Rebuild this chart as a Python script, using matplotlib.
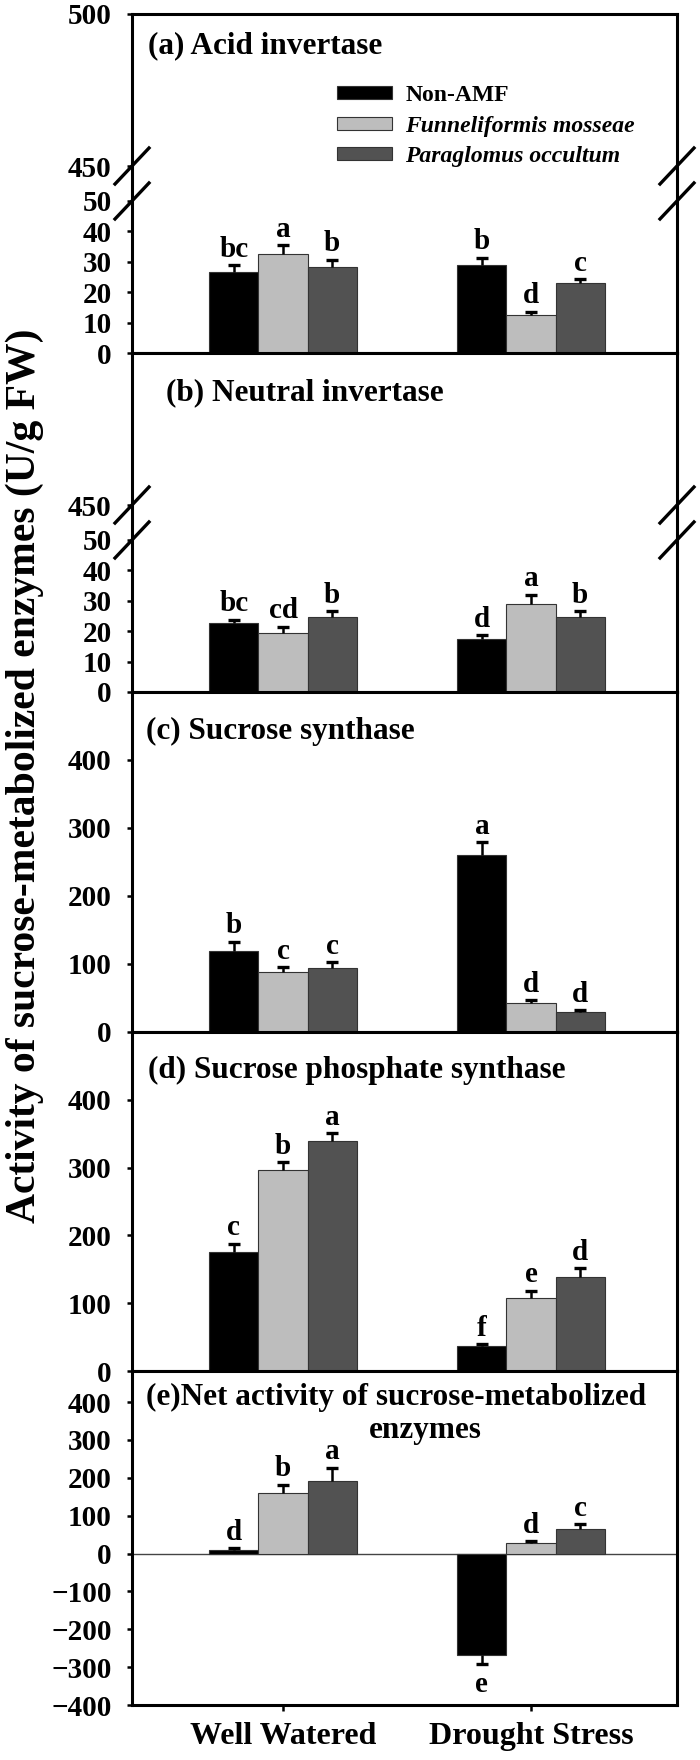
import numpy as np
import matplotlib
matplotlib.use("Agg")
import matplotlib.pyplot as plt
from matplotlib.patches import Patch

plt.rcParams['font.family'] = ['Liberation Serif', 'DejaVu Serif']
plt.rcParams['font.weight'] = 'bold'

groups = ['Well Watered', 'Drought Stress']
treatments = ['Non-AMF', 'Funneliformis mosseae', 'Paraglomus occultum']
colors = ['#000000', '#bdbdbd', '#525252']

# order of values: Well Watered (Non-AMF, F. mosseae, P. occultum), Drought Stress (same)
acid_inv = [26.7, 32.7, 28.4, 29.1, 12.4, 23.0]
acid_inv_err = [2.2, 2.8, 2.3, 2.3, 1.2, 1.3]
acid_inv_letters = ['bc', 'a', 'b', 'b', 'd', 'c']

neutral_inv = [22.6, 19.5, 24.8, 17.3, 29.0, 24.8]
neutral_inv_err = [1.2, 2.0, 1.7, 1.5, 3.0, 1.7]
neutral_inv_letters = ['bc', 'cd', 'b', 'd', 'a', 'b']

sus = [119, 88.5, 94.3, 260, 42.8, 29.5]
sus_err = [13.7, 7.3, 8.7, 19.6, 4.2, 2.5]
sus_letters = ['b', 'c', 'c', 'a', 'd', 'd']

sps = [176, 297, 339.4, 36.2, 108, 139]
sps_err = [12, 11, 11.2, 3.8, 10.3, 12.6]
sps_letters = ['c', 'b', 'a', 'f', 'e', 'd']

net = [9.7, 159, 192, -269, 27.4, 64.6]
net_err = [4.3, 23, 35, 23, 5.3, 13.4]
net_letters = ['d', 'b', 'a', 'e', 'd', 'c']

W = 0.198
BREAK_SHIFT = 388.5   # 450 on the broken axis sits at 61.5


def brk(v):
    return v if v <= 50 else v - BREAK_SHIFT


def draw_bars(ax, vals, errs, letters):
    xs = []
    for g in range(2):
        for t in range(3):
            xs.append(g + (t - 1) * W)
    for i, (x, v, e, lt) in enumerate(zip(xs, vals, errs, letters)):
        t = i % 3
        ax.bar(x, v, W, color=colors[t], edgecolor='#333333', linewidth=0.8, zorder=3)
        end = v + e if v >= 0 else v - e
        ax.vlines(x, v, end, color='black', lw=1.8, zorder=4)
        ax.plot([x], [end], marker='_', ms=9, mew=2.4, color='black', zorder=4)
        if v >= 0:
            ax.annotate(lt, (x, end), xytext=(0, 6), textcoords='offset points',
                        ha='center', va='baseline', fontsize=21, fontweight='bold')
        else:
            ax.annotate(lt, (x, end), xytext=(0, -5), textcoords='offset points',
                        ha='center', va='top', fontsize=21, fontweight='bold')


fig = plt.figure(figsize=(7, 17.6), dpi=100)

# panel edges in pixels (top, bottom)
edges = [(14, 353), (353, 692), (692, 1032), (1032, 1371), (1371, 1705)]
L, R = 132, 677
axes = []
for top, bot in edges:
    ax = fig.add_axes([L / 700, 1 - bot / 1760, (R - L) / 700, (bot - top) / 1760])
    ax.set_xlim(-0.609, 1.589)
    for s in ax.spines.values():
        s.set_linewidth(2.2)
    ax.tick_params(axis='y', direction='out', length=3.5, width=1.8, pad=11, labelsize=21)
    ax.tick_params(axis='x', bottom=False, labelbottom=False)
    axes.append(ax)

ax_a, ax_b, ax_c, ax_d, ax_e = axes

# broken axes for (a) and (b)
for ax, vals, errs, lets in [(ax_a, acid_inv, acid_inv_err, acid_inv_letters),
                             (ax_b, neutral_inv, neutral_inv_err, neutral_inv_letters)]:
    ax.set_ylim(0, brk(500))
    ticks = [0, 10, 20, 30, 40, 50, 450, 500] if ax is ax_a else [0, 10, 20, 30, 40, 50, 450]
    ax.set_yticks([brk(t) for t in ticks])
    ax.set_yticklabels([str(t) for t in ticks])
    draw_bars(ax, vals, errs, lets)
    tr = ax.get_yaxis_transform()
    dx, dy = 17 / 545, 18 / 3.04
    for xa in (0, 1):
        for yb in (brk(50), brk(450)):
            ax.plot([xa - dx, xa + dx], [yb - dy, yb + dy], color='black', lw=2.4,
                    transform=tr, clip_on=False, zorder=6)

ax_c.set_ylim(0, 500)
ax_c.set_yticks([0, 100, 200, 300, 400])
draw_bars(ax_c, sus, sus_err, sus_letters)

ax_d.set_ylim(0, 500)
ax_d.set_yticks([0, 100, 200, 300, 400])
draw_bars(ax_d, sps, sps_err, sps_letters)

ax_e.set_ylim(-400, 482)
ax_e.set_yticks([-400, -300, -200, -100, 0, 100, 200, 300, 400])
ax_e.axhline(0, color='#444444', lw=1.0, zorder=2)
draw_bars(ax_e, net, net_err, net_letters)
ax_e.set_xticks([0, 1])
ax_e.set_xticklabels(groups)
ax_e.tick_params(axis='x', bottom=True, labelbottom=True, direction='out', length=4,
                 width=1.8, pad=8, labelsize=23)

# titles
tkw = dict(fontsize=22.5, fontweight='bold', va='baseline')
ax_a.text(0.029, 0.885, '(a) Acid invertase', transform=ax_a.transAxes, **tkw)
ax_b.text(0.062, 0.861, '(b) Neutral invertase', transform=ax_b.transAxes, **tkw)
ax_c.text(0.026, 0.862, '(c) Sucrose synthase', transform=ax_c.transAxes, **tkw)
ax_d.text(0.029, 0.864, '(d) Sucrose phosphate synthase', transform=ax_d.transAxes, **tkw)
ax_e.text(0.026, 0.898, '(e)Net activity of sucrose-metabolized', transform=ax_e.transAxes, **tkw)
ax_e.text(0.539, 0.799, 'enzymes', transform=ax_e.transAxes, ha='center', **tkw)

# legend
handles = [Patch(facecolor=c, edgecolor='#333333', linewidth=0.8) for c in colors]
leg = ax_a.legend(handles, treatments, loc='upper left', bbox_to_anchor=(0.376, 0.79),
                  frameon=False, prop={'size': 17, 'weight': 'bold'},
                  handlelength=2.35, handleheight=0.45, handletextpad=0.55,
                  labelspacing=0.4, borderpad=0, borderaxespad=0)
for txt in leg.get_texts()[1:]:
    txt.set_style('italic')

fig.text(25 / 700, 1 - 776 / 1760, 'Activity of sucrose-metabolized enzymes (U/g FW)',
         rotation=90, ha='center', va='center', fontsize=30, fontweight='bold')

fig.savefig('out.png', dpi=100)
